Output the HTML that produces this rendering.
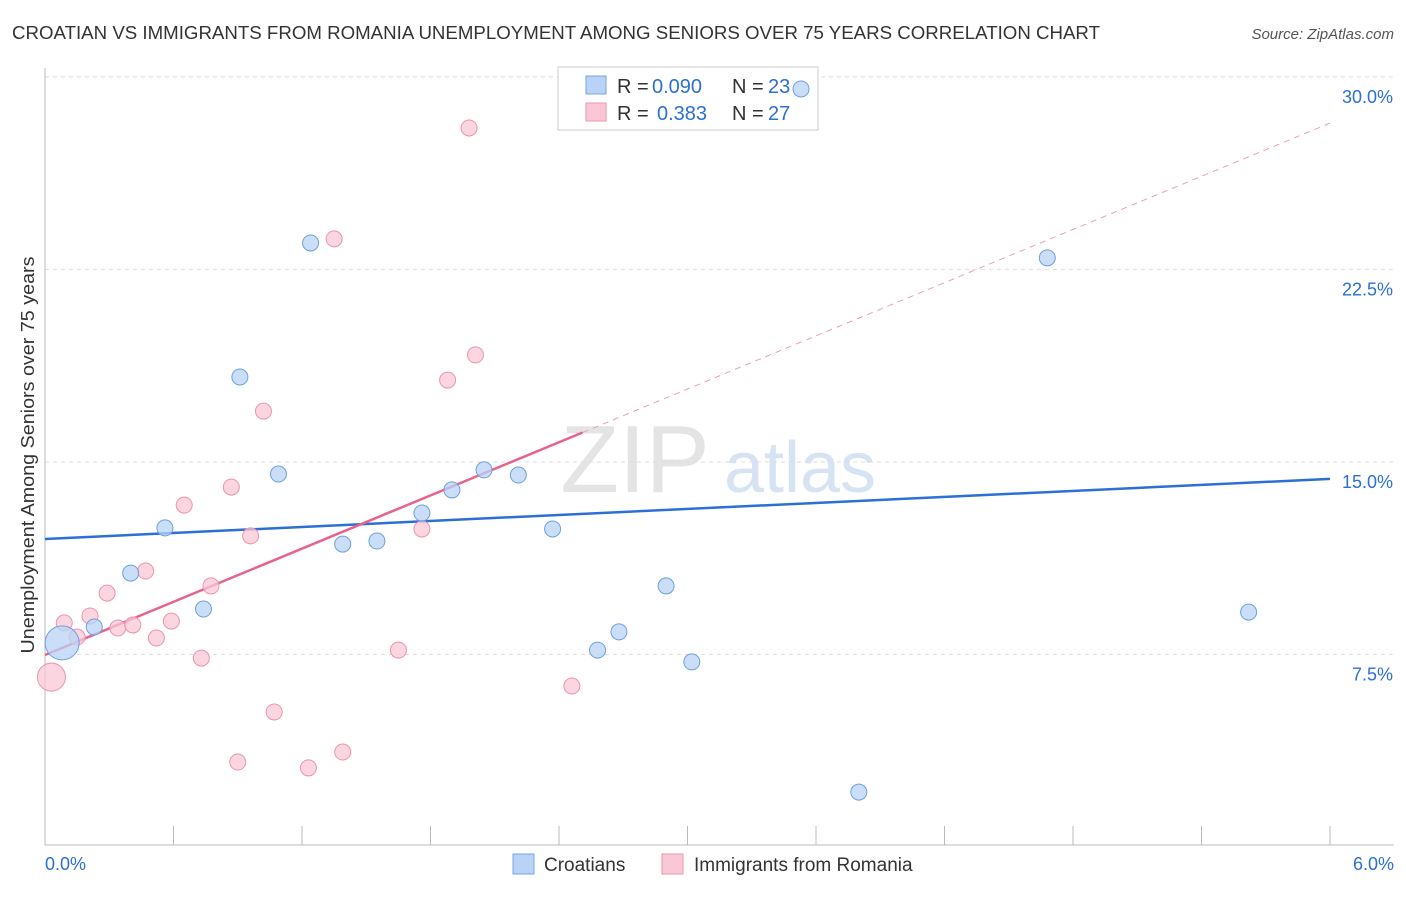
<!DOCTYPE html>
<html><head><meta charset="utf-8"><style>
body{margin:0;background:#fff;font-family:"Liberation Sans",sans-serif;}
svg text{font-family:"Liberation Sans",sans-serif;}
</style></head><body>
<svg id="chart" width="1406" height="892">
<text x="12" y="39" font-size="18" fill="#333" textLength="1088" lengthAdjust="spacingAndGlyphs">CROATIAN VS IMMIGRANTS FROM ROMANIA UNEMPLOYMENT AMONG SENIORS OVER 75 YEARS CORRELATION CHART</text>
<text x="1394" y="39" font-size="15" fill="#555" font-style="italic" text-anchor="end">Source: ZipAtlas.com</text>
<text x="635" y="492" font-size="96" fill="#e4e4e4" font-family="Liberation Serif" text-anchor="middle">ZIP</text>
<text x="800" y="492" font-size="72" fill="#d6e3f3" text-anchor="middle">atlas</text>
<g id="grid"></g><g id="axes"></g>
<text transform="translate(34,455) rotate(-90)" font-size="18" fill="#333" text-anchor="middle" textLength="397" lengthAdjust="spacingAndGlyphs">Unemployment Among Seniors over 75 years</text>
<g>
<rect x="558" y="67" width="260" height="63" fill="#fff" stroke="#ccc"/>
<rect x="586" y="76" width="20" height="18" fill="#b8d3f5" stroke="#7aa6e0"/>
<rect x="586" y="103" width="20" height="18" fill="#f9c7d6" stroke="#eb94ad"/>
<text x="617" y="93" font-size="20" fill="#333">R =</text>
<text x="652" y="93" font-size="20" fill="#2c6fd6">0.090</text>
<text x="732" y="93" font-size="20" fill="#333">N =</text>
<text x="768" y="93" font-size="20" fill="#2c6fd6">23</text>
<text x="617" y="120" font-size="20" fill="#333">R =</text>
<text x="657" y="120" font-size="20" fill="#2c6fd6">0.383</text>
<text x="732" y="120" font-size="20" fill="#333">N =</text>
<text x="768" y="120" font-size="20" fill="#2c6fd6">27</text>
</g>
<g id="lines"></g><g id="points"></g>
<g>
<rect x="513" y="854" width="21" height="20" fill="#b8d3f5" stroke="#7aa6e0"/>
<text x="544" y="871" font-size="19" fill="#333">Croatians</text>
<rect x="662" y="854" width="21" height="20" fill="#f9c7d6" stroke="#eb94ad"/>
<text x="694" y="871" font-size="19" fill="#333">Immigrants from Romania</text>
</g>
</svg>
<script>
const blueX=[0.08,0.23,0.40,0.56,0.74,0.91,1.09,1.24,1.39,1.55,1.76,1.90,2.05,2.21,2.37,2.58,2.68,2.90,3.02,3.53,3.80,4.68,5.62];
const blueY=[7.95,8.57,10.67,12.43,9.27,18.31,14.53,23.53,11.80,11.92,13.01,13.91,14.69,14.49,12.39,7.67,8.38,10.17,7.21,29.53,2.14,22.95,9.15];
const pinkX=[0.03,0.09,0.15,0.21,0.29,0.34,0.41,0.47,0.52,0.59,0.65,0.73,0.775,0.87,0.90,0.96,1.02,1.07,1.23,1.35,1.39,1.65,1.76,1.88,1.98,2.01,2.46];
const pinkY=[6.62,8.73,8.18,9.00,9.89,8.53,8.65,10.75,8.14,8.80,13.32,7.36,10.17,14.02,3.31,12.12,16.98,5.26,3.08,23.69,3.70,7.67,12.39,18.19,28.01,19.17,6.27];
const yTicks=[7.5,15.0,22.5,30.0];
const yTickLabels=["7.5%","15.0%","22.5%","30.0%"];
const blueTrend=[12.0,14.34];
const pinkTrend=[7.48,28.2];
const pinkSolidEnd=2.51;
const NS="http://www.w3.org/2000/svg";
const sx=v=>45+v/6*1285, sy=v=>847-v*25.67;
function mk(tag,attrs,parent){const e=document.createElementNS(NS,tag);for(const k in attrs)e.setAttribute(k,attrs[k]);document.getElementById(parent).appendChild(e);return e;}
yTicks.forEach((t,i)=>{
 const l=mk('line',{x1:45,x2:1394,y1:sy(t),y2:sy(t),stroke:'#ddd','stroke-dasharray':'4,4'},'grid');
 
 
 const tx=mk('text',{x:1393,y:sy(t)+26,'font-size':18,fill:'#2c6fd6','text-anchor':'end'},'grid');
 tx.textContent=yTickLabels[i];
 
 
});
const ax=mk('line',{x1:45,x2:1394,y1:845,y2:845,stroke:'#bbb'},'axes');


const ay=mk('line',{x1:45,x2:45,y1:68,y2:845,stroke:'#bbb'},'axes');


for(let i=0;i<=10;i++){const x=45+i*128.5;const t=mk('line',{x1:x,x2:x,y1:826,y2:845,stroke:'#bbb'},'axes');
 
 }
const x0=mk('text',{x:45,y:870,'font-size':18,fill:'#2c6fd6'},'axes');x0.textContent='0.0%';


const x6=mk('text',{x:1394,y:870,'font-size':18,fill:'#2c6fd6','text-anchor':'end'},'axes');x6.textContent='6.0%';


const bl=mk('line',{x1:sx(0),y1:sy(blueTrend[0]),x2:sx(6),y2:sy(blueTrend[1]),stroke:'#2c6fd6','stroke-width':2.5},'lines');


const pAt=v=>pinkTrend[0]+(pinkTrend[1]-pinkTrend[0])*v/6;
const pd=mk('line',{x1:sx(pinkSolidEnd),y1:sy(pAt(pinkSolidEnd)),x2:sx(6),y2:sy(pinkTrend[1]),stroke:'#e8a0b6','stroke-width':1,'stroke-dasharray':'6,5'},'lines');


const ps=mk('line',{x1:sx(0),y1:sy(pinkTrend[0]),x2:sx(pinkSolidEnd),y2:sy(pAt(pinkSolidEnd)),stroke:'#e8628d','stroke-width':2.5},'lines');


pinkX.forEach((x,i)=>{const c=mk('circle',{cx:sx(x),cy:sy(pinkY[i]),r:i===0?14:8,fill:'#f9c7d6','fill-opacity':0.75,stroke:'#eb94ad','stroke-width':1},'points');
 
 });
blueX.forEach((x,i)=>{const c=mk('circle',{cx:sx(x),cy:sy(blueY[i]),r:i===0?17:8,fill:'#b8d3f5','fill-opacity':0.75,stroke:'#6f9fdc','stroke-width':1},'points');
 
 });
</script>
</body></html>
